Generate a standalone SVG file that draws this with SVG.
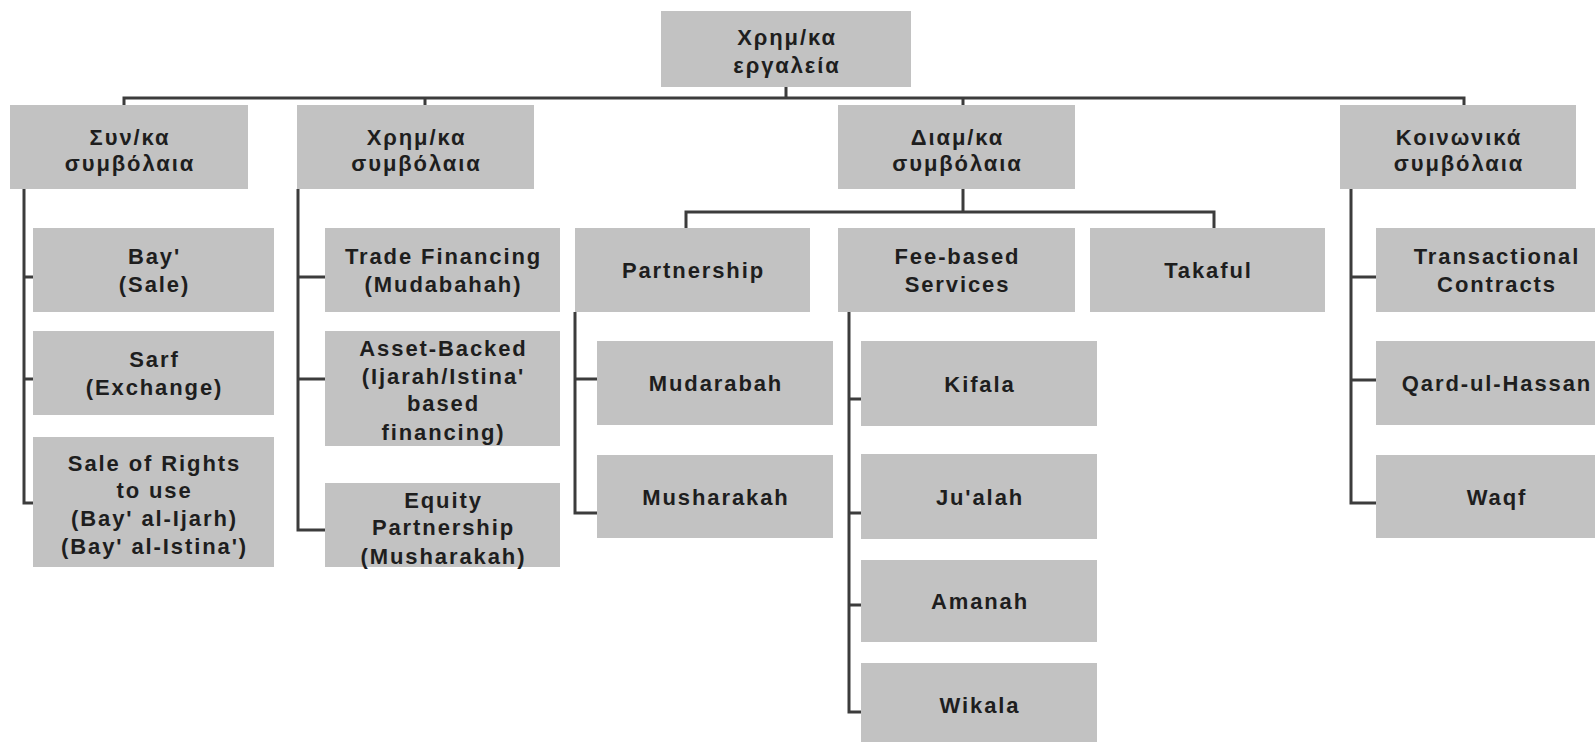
<svg xmlns="http://www.w3.org/2000/svg" width="1595" height="742" viewBox="0 0 1595 742">
<style>
.box{fill:#c2c2c2;}
.t{font-family:"Liberation Sans",Arial,sans-serif;font-weight:bold;font-size:22px;letter-spacing:1.9px;fill:#1e1e1e;text-anchor:middle;}
.c{fill:none;stroke:#3c3c3c;stroke-width:3;}
</style>
<rect width="1595" height="742" fill="#ffffff"/>
<g id="connectors" class="c">
<path d="M124 105 V98 H1464 V105 M425 98 V105 M963 98 V105 M786 87 V98"/>
<path d="M963 189 V212 M686 228 V212 H1214 V228"/>
<path d="M24 189 V503 H33 M24 277 H33 M24 379 H33"/>
<path d="M298 189 V530 H325 M298 277 H325 M298 379 H325"/>
<path d="M575 312 V513 H597 M575 379 H597"/>
<path d="M849 312 V712 H861 M849 399 H861 M849 513 H861 M849 605 H861"/>
<path d="M1351 189 V503 H1376 M1351 277 H1376 M1351 380 H1376"/>
</g>
<g id="root"><rect class="box" x="661" y="11" width="250" height="76"/><text class="t" x="787" y="45">Χρημ/κα</text><text class="t" x="787" y="73">εργαλεία</text></g>
<g id="syn"><rect class="box" x="10" y="105" width="238" height="84"/><text class="t" x="130" y="145">Συν/κα</text><text class="t" x="130" y="171">συμβόλαια</text></g>
<g id="xrim"><rect class="box" x="297" y="105" width="237" height="84"/><text class="t" x="416.5" y="145">Χρημ/κα</text><text class="t" x="416.5" y="171">συμβόλαια</text></g>
<g id="diam"><rect class="box" x="838" y="105" width="237" height="84"/><text class="t" x="957.5" y="145">Διαμ/κα</text><text class="t" x="957.5" y="171">συμβόλαια</text></g>
<g id="koin"><rect class="box" x="1340" y="105" width="236" height="84"/><text class="t" x="1459" y="145">Κοινωνικά</text><text class="t" x="1459" y="171">συμβόλαια</text></g>
<g id="bay"><rect class="box" x="33" y="228" width="241" height="84"/><text class="t" x="154.5" y="264">Bay'</text><text class="t" x="154.5" y="292">(Sale)</text></g>
<g id="sarf"><rect class="box" x="33" y="331" width="241" height="84"/><text class="t" x="154.5" y="367">Sarf</text><text class="t" x="154.5" y="395">(Exchange)</text></g>
<g id="rights"><rect class="box" x="33" y="437" width="241" height="130"/><text class="t" x="154.5" y="471">Sale of Rights</text><text class="t" x="154.5" y="498">to use</text><text class="t" x="154.5" y="526">(Bay' al-Ijarh)</text><text class="t" x="154.5" y="554">(Bay' al-Istina')</text></g>
<g id="trade"><rect class="box" x="325" y="228" width="235" height="84"/><text class="t" x="443.5" y="264">Trade Financing</text><text class="t" x="443.5" y="292">(Mudabahah)</text></g>
<g id="asset"><rect class="box" x="325" y="331" width="235" height="115"/><text class="t" x="443.5" y="356">Asset-Backed</text><text class="t" x="443.5" y="384">(Ijarah/Istina'</text><text class="t" x="443.5" y="411">based</text><text class="t" x="443.5" y="440">financing)</text></g>
<g id="equity"><rect class="box" x="325" y="483" width="235" height="84"/><text class="t" x="443.5" y="508">Equity</text><text class="t" x="443.5" y="535">Partnership</text><text class="t" x="443.5" y="564">(Musharakah)</text></g>
<g id="partnership"><rect class="box" x="575" y="228" width="235" height="84"/><text class="t" x="693.5" y="278">Partnership</text></g>
<g id="fee"><rect class="box" x="838" y="228" width="237" height="84"/><text class="t" x="957.5" y="264">Fee-based</text><text class="t" x="957.5" y="292">Services</text></g>
<g id="takaful"><rect class="box" x="1090" y="228" width="235" height="84"/><text class="t" x="1208.5" y="278">Takaful</text></g>
<g id="transactional"><rect class="box" x="1376" y="228" width="240" height="84"/><text class="t" x="1497" y="264">Transactional</text><text class="t" x="1497" y="292">Contracts</text></g>
<g id="mudarabah"><rect class="box" x="597" y="341" width="236" height="84"/><text class="t" x="716" y="391">Mudarabah</text></g>
<g id="musharakah"><rect class="box" x="597" y="455" width="236" height="83"/><text class="t" x="716" y="505">Musharakah</text></g>
<g id="kifala"><rect class="box" x="861" y="341" width="236" height="85"/><text class="t" x="980" y="392">Kifala</text></g>
<g id="jualah"><rect class="box" x="861" y="454" width="236" height="85"/><text class="t" x="980" y="505">Ju'alah</text></g>
<g id="amanah"><rect class="box" x="861" y="560" width="236" height="82"/><text class="t" x="980" y="609">Amanah</text></g>
<g id="wikala"><rect class="box" x="861" y="663" width="236" height="82"/><text class="t" x="980" y="713">Wikala</text></g>
<g id="qard"><rect class="box" x="1376" y="341" width="240" height="84"/><text class="t" x="1497" y="391">Qard-ul-Hassan</text></g>
<g id="waqf"><rect class="box" x="1376" y="455" width="240" height="83"/><text class="t" x="1497" y="505">Waqf</text></g>
</svg>
